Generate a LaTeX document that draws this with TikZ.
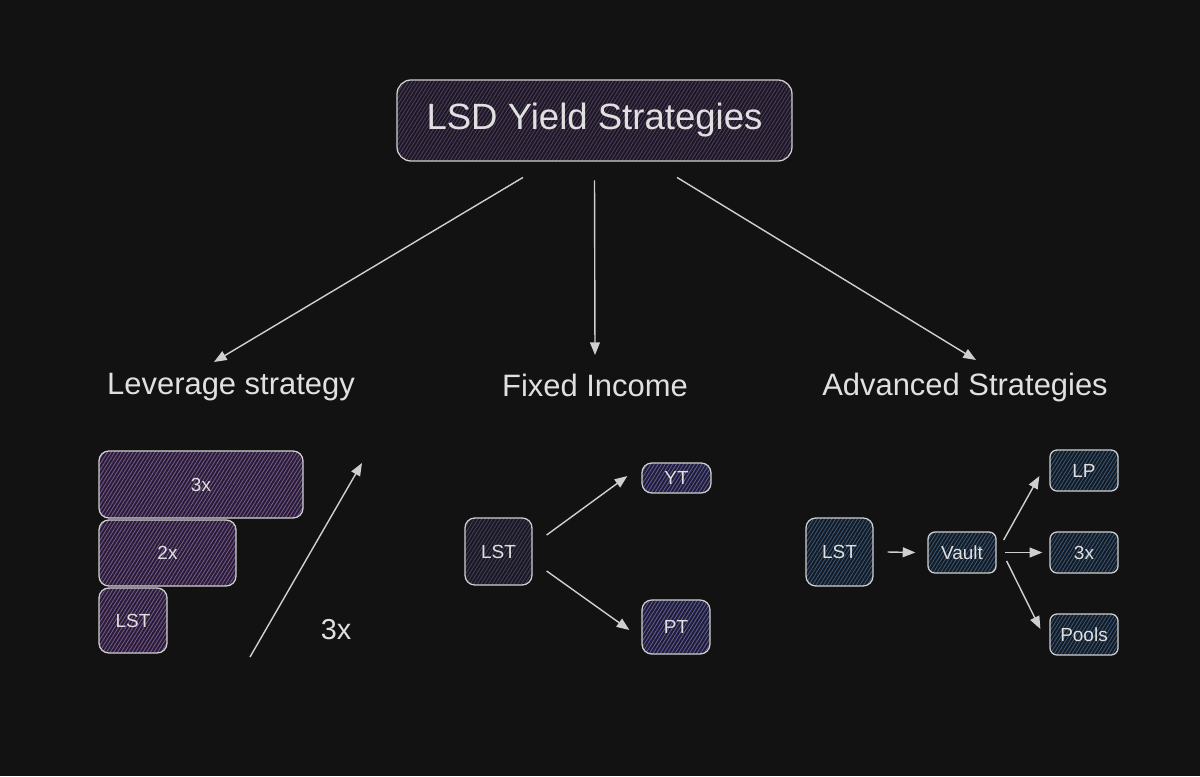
\documentclass[tikz,border=0pt]{standalone}
\usepackage{fontspec}
\setmainfont{Liberation Sans}
\usepackage{tikz}
\usetikzlibrary{calc,positioning,arrows.meta,patterns.meta}
\newdimen\unitpx
\unitpx=0.025cm
\definecolor{canvas}{HTML}{121212}
\definecolor{ink}{HTML}{E0E0E0}
\definecolor{edge}{HTML}{CFCFCF}
\definecolor{plumbase}{HTML}{1D1822}
\definecolor{plumline}{HTML}{4E3D62}
\definecolor{lilacbase}{HTML}{281E31}
\definecolor{lilacline}{HTML}{7A5898}
\definecolor{duskbase}{HTML}{1A1921}
\definecolor{duskline}{HTML}{423E5C}
\definecolor{indigobase}{HTML}{1F1E33}
\definecolor{indigoline}{HTML}{625CA0}
\definecolor{navybase}{HTML}{141B24}
\definecolor{navyline}{HTML}{3A5878}
\tikzset{
  box/.style={
    draw=edge,
    rectangle,
    rounded corners=7pt,
    line width=0.9pt,
    inner sep=0pt,
    text=ink,
    font=\fontsize{13.5}{16}\selectfont,
  },
  hatch/.style 2 args={
    preaction={fill=#1},
    pattern={Lines[angle=58,distance=2.2pt,line width=0.6pt]},
    pattern color=#2,
  },
  titlebox/.style={
    box,
    hatch={plumbase}{plumline},
    rounded corners=10pt,
    minimum width=395\unitpx,
    minimum height=81\unitpx,
    font=\fontsize{26}{30}\selectfont,
  },
  levbox/.style={box, hatch={lilacbase}{lilacline}},
  fixbox/.style={box, hatch={duskbase}{duskline}},
  tokbox/.style={box, hatch={indigobase}{indigoline}},
  advbox/.style={box, hatch={navybase}{navyline}},
  smallbox/.style={advbox, rounded corners=5pt, minimum width=68\unitpx, minimum height=41\unitpx},
  heading/.style={text=ink, inner sep=0pt, font=\fontsize{22}{26}\selectfont},
  flow/.style={draw=edge, line width=1pt, -{Triangle[length=9pt,width=7pt]}},
}
\begin{document}
\begin{tikzpicture}[x=0.025cm,y=-0.025cm]
  \fill[canvas] (0,0) rectangle (1200,776);
  \useasboundingbox (0,0) rectangle (1200,776);

  \node[titlebox] (title) at (594.5,120.5) {LSD Yield Strategies};

  \node[heading] (lev) at (231,387) {Leverage strategy};
  \node[heading] (fix) at (595,385) {Fixed Income};
  \node[heading] (adv) at (965,387) {Advanced Strategies};

  \draw[flow] ($(title.south)+(-71.5,16)$) -- ($(lev)+(-17,-25)$);
  \draw[flow] ($(title.south)+(0,19)$) -- ($(fix)+(0,-30)$);
  \draw[flow] ($(title.south)+(82.5,16)$) -- ($(adv)+(11,-27)$);

  \node[levbox, minimum width=204\unitpx, minimum height=67\unitpx] (lev3) at (201,484.5) {3x};
  \node[levbox, minimum width=137\unitpx, minimum height=66\unitpx] (lev2) at (167.5,553) {2x};
  \node[levbox, minimum width=68\unitpx, minimum height=65\unitpx] (levlst) at (133,620.5) {LST};
  \coordinate (gainfoot) at (250,657);
  \coordinate (gaintip) at (362,463);
  \draw[flow] (gainfoot) -- (gaintip);
  \node[text=ink, font=\fontsize{20.5}{24}\selectfont] (gain) at (336,630) {3x};

  \node[fixbox, minimum width=67\unitpx, minimum height=67\unitpx] (fixlst) at (498.5,551.5) {LST};
  \node[tokbox, minimum width=69\unitpx, minimum height=30\unitpx] (yt) at (676.5,478) {YT};
  \node[tokbox, minimum width=68\unitpx, minimum height=54\unitpx] (pt) at (676,627) {PT};
  \draw[flow] ($(fixlst.east)+(14,-16.5)$) -- ($(yt.west)+(-14,-2)$);
  \draw[flow] ($(fixlst.east)+(14,19.5)$) -- ($(pt.west)+(-12,3)$);

  \node[advbox, minimum width=67\unitpx, minimum height=68\unitpx] (advlst) at (839.5,552) {LST};
  \node[smallbox] (vault) at (962,552.5) {Vault};
  \node[smallbox] (lp) at (1084,470.5) {LP};
  \node[smallbox] (tri) at (1084,552.5) {3x};
  \node[smallbox] (pools) at (1084,634.5) {Pools};
  \draw[flow] ($(advlst.east)+(14,0)$) -- ($(vault.west)+(-12,0)$);
  \draw[flow] ($(vault.east)+(7,-12.5)$) -- ($(lp.west)+(-10,5.5)$);
  \draw[flow] ($(vault.east)+(8,0)$) -- ($(tri.west)+(-7,0)$);
  \draw[flow] ($(vault.east)+(10,8.5)$) -- ($(pools.west)+(-9,-5.5)$);
\end{tikzpicture}
\end{document}
